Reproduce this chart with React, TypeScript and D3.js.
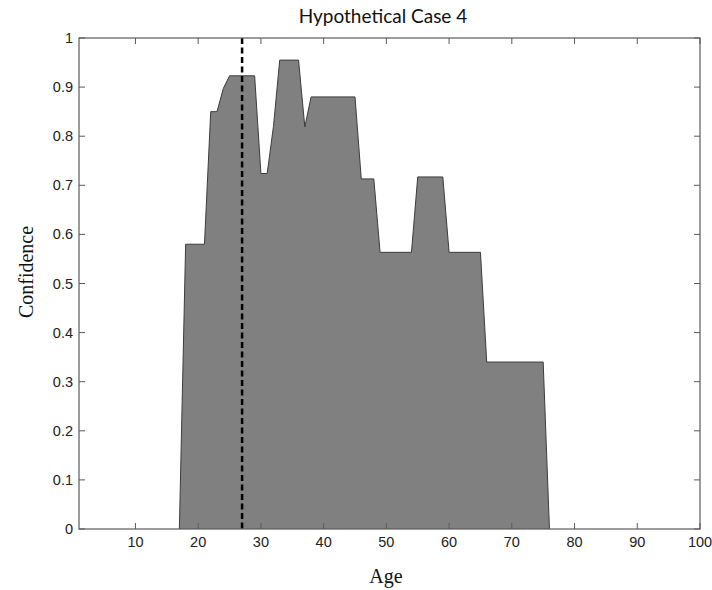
import React from "react";
import * as d3 from "d3";

const ages = [17, 18, 21, 22, 23, 24, 25, 29, 30, 31, 32, 33, 36, 37, 38, 45, 46, 48, 49, 54, 55, 59, 60, 65, 66, 75, 76];
const confidence = [0, 0.58, 0.58, 0.85, 0.85, 0.897, 0.923, 0.923, 0.724, 0.724, 0.82, 0.955, 0.955, 0.819, 0.88, 0.88, 0.713, 0.713, 0.5635, 0.5635, 0.717, 0.717, 0.5635, 0.5635, 0.34, 0.34, 0];
const markerAge = 27;
const xTicks = [10, 20, 30, 40, 50, 60, 70, 80, 90, 100];
const yTicks = [0, 0.1, 0.2, 0.3, 0.4, 0.5, 0.6, 0.7, 0.8, 0.9, 1];
const title = "Hypothetical Case 4";
const xLabel = "Age";
const yLabel = "Confidence";

export default function App() {
  const W = 712, H = 590;
  const left = 79, right = 700, top = 38, bottom = 529;
  const x = d3.scaleLinear().domain([1, 100]).range([left, right]);
  const y = d3.scaleLinear().domain([0, 1]).range([bottom, top]);
  const data = ages.map((a, i) => [a, confidence[i]] as [number, number]);
  const area = d3.area<[number, number]>().x(d => x(d[0])).y0(y(0)).y1(d => y(d[1]));
  const line = d3.line<[number, number]>().x(d => x(d[0])).y(d => y(d[1]));
  const axisColor = "#5a5a5a";
  const tickLen = 6;
  const sans = "'Liberation Sans', Arial, sans-serif";
  const serif = "'Liberation Serif', 'Times New Roman', serif";
  const fmtY = (v: number) => (v === 0 ? "0" : v === 1 ? "1" : d3.format(".1f")(v));
  return (
    <svg width={W} height={H} style={{ position: "absolute", left: 0, top: 0, background: "#fff" }}>
      <rect x={0} y={0} width={W} height={H} fill="#fff" />
      <path d={area(data) || ""} fill="#808080" />
      <path d={line(data) || ""} fill="none" stroke="#3c3c3c" strokeWidth={1} />
      <line x1={x(markerAge)} x2={x(markerAge)} y1={y(1)} y2={y(0)} stroke="#000" strokeWidth={2.5} strokeDasharray="6,3.5" />
      <rect x={left} y={top} width={right - left} height={bottom - top} fill="none" stroke={axisColor} strokeWidth={1.2} />
      {xTicks.map(t => (
        <g key={"x" + t}>
          <line x1={x(t)} x2={x(t)} y1={bottom} y2={bottom - tickLen} stroke={axisColor} />
          <line x1={x(t)} x2={x(t)} y1={top} y2={top + tickLen} stroke={axisColor} />
          <text x={x(t)} y={547} textAnchor="middle" style={{ fontFamily: sans }} fontSize={14.5} fill="#222">{t}</text>
        </g>
      ))}
      {yTicks.map(t => (
        <g key={"y" + t}>
          <line x1={left} x2={left + tickLen} y1={y(t)} y2={y(t)} stroke={axisColor} />
          <line x1={right} x2={right - tickLen} y1={y(t)} y2={y(t)} stroke={axisColor} />
          <text x={73} y={y(t) + 5} textAnchor="end" style={{ fontFamily: sans }} fontSize={14.5} fill="#222">{fmtY(t)}</text>
        </g>
      ))}
      <text x={383} y={23} textAnchor="middle" style={{ fontFamily: "Lato, 'Open Sans', sans-serif" }} fontSize={19} fill="#111">{title}</text>
      <text x={386} y={583} textAnchor="middle" style={{ fontFamily: serif }} fontSize={20} fill="#111">{xLabel}</text>
      <text transform={`translate(33,272) rotate(-90)`} textAnchor="middle" style={{ fontFamily: serif }} fontSize={20} fill="#111">{yLabel}</text>
    </svg>
  );
}
